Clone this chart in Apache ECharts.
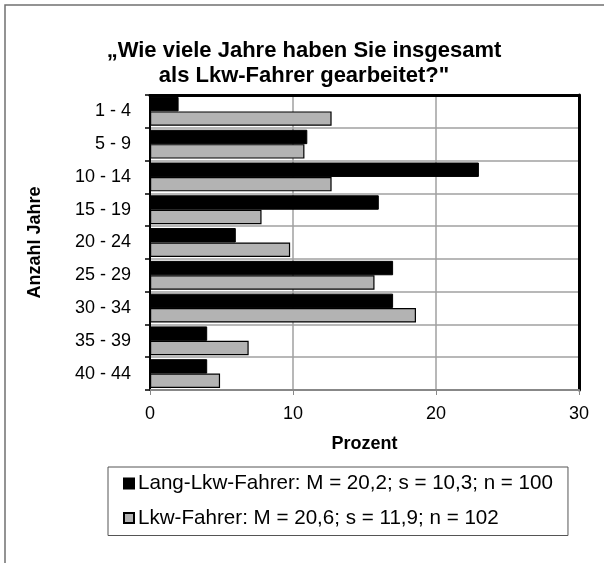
<!DOCTYPE html>
<html>
<head>
<meta charset="utf-8">
<script src="https://cdn.jsdelivr.net/npm/echarts@6/dist/echarts.min.js"></script>
<style>html,body{margin:0;padding:0;background:#fff}#c{width:604px;height:563px}</style>
</head>
<body>
<div id="c"></div>
<script>
const categories = ['1 - 4','5 - 9','10 - 14','15 - 19','20 - 24','25 - 29','30 - 34','35 - 39','40 - 44'];
const langLkw = [2, 11, 23, 16, 6, 17, 17, 4, 4];
const lkw = [12.7, 10.8, 12.7, 7.8, 9.8, 15.7, 18.6, 6.9, 4.9];
const xTicks = [0, 10, 20, 30];
const seriesNames = ['Lang-Lkw-Fahrer: M = 20,2; s = 10,3; n = 100', 'Lkw-Fahrer: M = 20,6; s = 11,9; n = 102'];
const FONT = '"Liberation Sans", Arial, sans-serif';

const chart = echarts.init(document.getElementById('c'), null, {renderer: 'canvas'});
chart.setOption({
  backgroundColor: '#fff',
  animation: false,
  textStyle: {fontFamily: FONT},
  graphic: [{
    type: 'rect', shape: {x: 5, y: 5, width: 900, height: 900},
    style: {fill: 'none', stroke: '#707070', lineWidth: 1.5}, silent: true, z: -10
  }],
  title: {
    text: '„Wie viele Jahre haben Sie insgesamt\nals Lkw-Fahrer gearbeitet?"',
    left: 299, top: 33, textAlign: 'center',
    textStyle: {fontFamily: FONT, fontSize: 22, fontWeight: 'bold', color: '#000', lineHeight: 25}
  },
  legend: {
    orient: 'vertical', left: 108, top: 467,
    padding: [6, 15, 7, 15], itemGap: 13.5,
    itemWidth: 10, itemHeight: 10, icon: 'rect',
    borderColor: '#555', borderWidth: 1, backgroundColor: '#fff',
    textStyle: {fontFamily: FONT, fontSize: 20.6, color: '#000', lineHeight: 20, padding: [0,0,0,-1]},
    data: seriesNames
  },
  grid: {left: 150, right: 25, top: 95, bottom: 173},
  xAxis: [{
    type: 'value', min: xTicks[0], max: xTicks[xTicks.length-1], interval: 10,
    name: 'Prozent', nameLocation: 'middle', nameGap: 45,
    nameTextStyle: {fontFamily: FONT, fontSize: 18, fontWeight: 'bold', color: '#000'},
    axisLine: {show: true, lineStyle: {color: '#888', width: 2}},
    axisTick: {show: true, length: 5, lineStyle: {color: '#888', width: 1}},
    axisLabel: {fontFamily: FONT, fontSize: 18, color: '#000', margin: 15},
    splitLine: {show: true, lineStyle: {color: '#a0a0a0', width: 1.5}}
  }, {
    type: 'value', position: 'top', min: 0, max: 30,
    axisLine: {show: true, onZero: false, lineStyle: {color: '#000', width: 3}},
    axisTick: {show: false}, axisLabel: {show: false}, splitLine: {show: false}
  }],
  yAxis: [{
    type: 'category', data: categories, inverse: true,
    name: 'Anzahl Jahre', nameLocation: 'middle', nameGap: 106, nameRotate: 90,
    nameTextStyle: {fontFamily: FONT, fontSize: 18, fontWeight: 'bold', color: '#000'},
    axisLine: {show: true, onZero: false, lineStyle: {color: '#000', width: 2}},
    axisTick: {show: true, length: 5, lineStyle: {color: '#000', width: 1.5}},
    axisLabel: {fontFamily: FONT, fontSize: 18, color: '#000', margin: 19},
    splitLine: {show: true, lineStyle: {color: '#a0a0a0', width: 1.5}}
  }, {
    type: 'category', data: categories, inverse: true, position: 'right',
    axisLine: {show: true, onZero: false, lineStyle: {color: '#000', width: 3}},
    axisTick: {show: false}, axisLabel: {show: false}, splitLine: {show: false}
  }],
  series: [{
    name: seriesNames[0], type: 'bar', data: langLkw,
    barGap: '0%', barCategoryGap: '12%',
    itemStyle: {color: '#000', borderColor: '#000', borderWidth: 1}
  }, {
    name: seriesNames[1], type: 'bar', data: lkw,
    barGap: '0%', barCategoryGap: '12%',
    itemStyle: {color: '#b3b3b3', borderColor: '#000', borderWidth: 1.2}
  }]
});
</script>
</body>
</html>
